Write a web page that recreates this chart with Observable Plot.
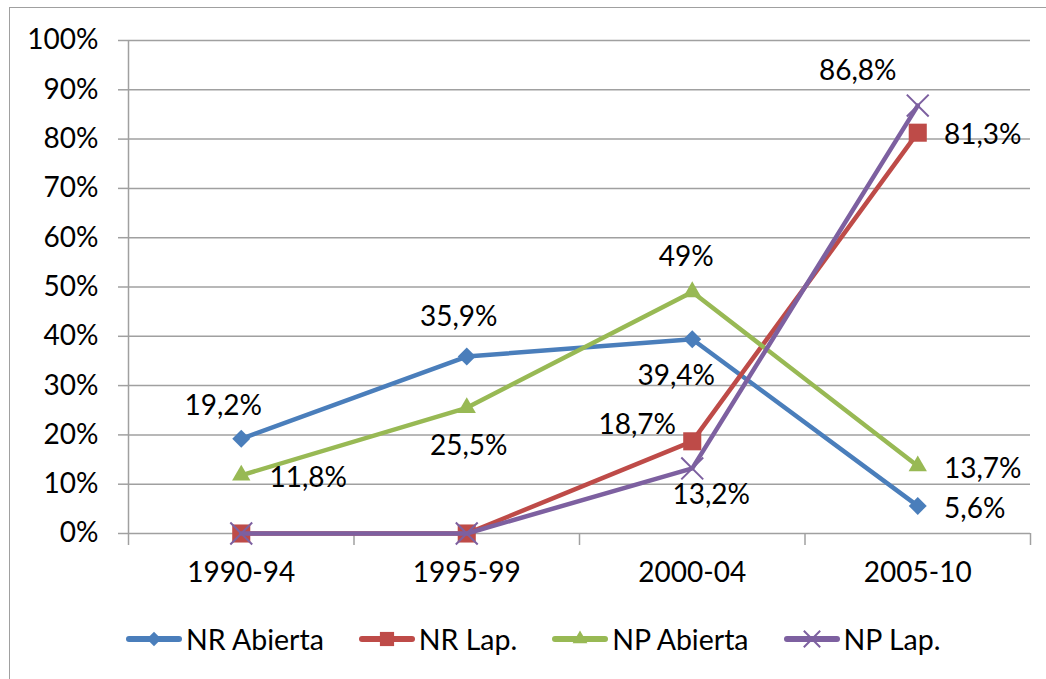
<!DOCTYPE html>
<html>
<head>
<meta charset="utf-8">
<script src="https://cdn.jsdelivr.net/npm/d3@7"></script>
<script src="https://cdn.jsdelivr.net/npm/@observablehq/plot@0.6"></script>
<style>
  html, body { margin: 0; padding: 0; background: #fff; width: 1046px; height: 679px; overflow: hidden; }
  #frame { position: absolute; left: 9px; top: 7px; width: 1100px; height: 720px; border-left: 1.5px solid #a0a0a0; border-top: 1.5px solid #a0a0a0; }
  #chart { position: absolute; left: 0; top: 0; }
  #legend { position: absolute; left: 125px; top: 622px; display: flex; align-items: center; font-family: Lato, sans-serif; font-size: 28.5px; color: #000; }
  .item { display: flex; align-items: center; margin-right: 34px; }
  .item span { margin-left: 3px; }
</style>
</head>
<body>
<div id="frame"></div>
<div id="chart"></div>
<div id="legend"></div>
<script>
const categories = ["1990-94", "1995-99", "2000-04", "2005-10"];
const seriesNames = ["NR Abierta", "NR Lap.", "NP Abierta", "NP Lap."];
const nrAbierta = [19.2, 35.9, 39.4, 5.6];
const nrLap = [0, 0, 18.7, 81.3];
const npAbierta = [11.8, 25.5, 49, 13.7];
const npLap = [0, 0, 13.2, 86.8];
const yTicks = [0, 10, 20, 30, 40, 50, 60, 70, 80, 90, 100];
// label offsets (dx, dy) per point; null = no label
const labelOffsets = [
  [[-18, -33], [-8, -39], [-16, 37], [57, 3]],
  [null, null, [-55, -16], [65, 2]],
  [[67, 3], [2, 38], [-6, -35], [65, 3]],
  [null, null, [19, 27], [-60, -35]]
];

const colors = ["#4A7EBB", "#BE4B48", "#98B954", "#7D60A0"];
const symbols = [d3.symbolDiamond2, d3.symbolSquare, d3.symbolTriangle, d3.symbolTimes];
const radii = [8.1, 10.2, 6.8, 10];
const legendRadii = [6.5, 8, 5.5, 7.5];
const filled = [true, true, true, false];
const values = [nrAbierta, nrLap, npAbierta, npLap];

const fmt = v => String(v).replace(".", ",") + "%";
const FS = 28;

const marks = [];
marks.push(Plot.ruleY(yTicks, {stroke: "#a0a0a0", strokeWidth: 1.5}));
marks.push(Plot.axisY({ticks: yTicks, label: null, tickSize: 10, tickPadding: 20, tickFormat: d => d + "%", stroke: "#a0a0a0", strokeWidth: 1.5, fill: "#000", fontSize: FS, strokeOpacity: 1}));
marks.push(Plot.ruleX([0], {stroke: "#a0a0a0", strokeWidth: 1.5}));
marks.push(Plot.axisX({ticks: [0, 1, 2, 3, 4], label: null, tickSize: 12, tickFormat: () => "", stroke: "#a0a0a0", strokeWidth: 1.5, strokeOpacity: 1}));
marks.push(Plot.axisX({ticks: [0.5, 1.5, 2.5, 3.5], label: null, tickSize: 0, tickPadding: 29, tickFormat: d => categories[Math.floor(d)], fill: "#000", fontSize: FS}));

values.forEach((vals, s) => {
  const rows = vals.map((v, i) => ({i: i + 0.5, v}));
  marks.push(Plot.line(rows, {x: "i", y: "v", stroke: colors[s], strokeWidth: 4.5, strokeLinejoin: "round"}));
  if (filled[s]) {
    marks.push(Plot.dot(rows, {x: "i", y: "v", symbol: symbols[s], r: radii[s], fill: colors[s], stroke: "none"}));
  } else {
    marks.push(Plot.dot(rows, {x: "i", y: "v", symbol: symbols[s], r: radii[s], stroke: colors[s], strokeWidth: 2, fill: "none"}));
  }
});
values.forEach((vals, s) => {
  vals.forEach((v, i) => {
    const off = labelOffsets[s][i];
    if (!off) return;
    marks.push(Plot.text([{i: i + 0.5, v}], {x: "i", y: "v", text: d => fmt(d.v), dx: off[0], dy: off[1], fill: "#000", fontSize: FS}));
  });
});

const chart = Plot.plot({
  width: 1046,
  height: 600,
  marginLeft: 128,
  marginRight: 16,
  marginTop: 40,
  marginBottom: 67,
  x: {domain: [0, 4], axis: null},
  y: {domain: [0, 100], axis: null},
  style: {fontFamily: "Lato, sans-serif", fontSize: FS + "px", color: "#000", background: "transparent", overflow: "visible"},
  marks
});
document.getElementById("chart").appendChild(chart);

// legend
const legend = document.getElementById("legend");
seriesNames.forEach((name, s) => {
  const item = document.createElement("div");
  item.className = "item";
  const svg = d3.create("svg").attr("width", 58).attr("height", 26);
  svg.append("line").attr("x1", 4).attr("x2", 54).attr("y1", 13).attr("y2", 13)
    .attr("stroke", colors[s]).attr("stroke-width", 6).attr("stroke-linecap", "round");
  const path = d3.symbol(symbols[s], Math.PI * legendRadii[s] * legendRadii[s])();
  const p = svg.append("path").attr("d", path).attr("transform", "translate(29,13)");
  if (filled[s]) p.attr("fill", colors[s]); else p.attr("fill", "none").attr("stroke", colors[s]).attr("stroke-width", 2);
  item.appendChild(svg.node());
  const span = document.createElement("span");
  span.textContent = name;
  item.appendChild(span);
  legend.appendChild(item);
});
</script>
</body>
</html>
